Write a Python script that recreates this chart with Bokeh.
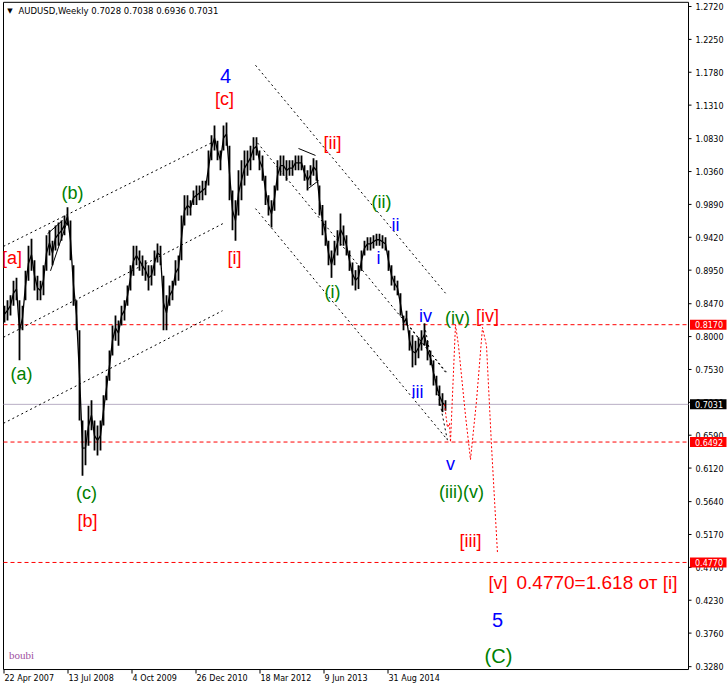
from bokeh.plotting import figure
from bokeh.models import Range1d, Label
from bokeh.core.properties import value
from bokeh.embed import file_html
from bokeh.resources import INLINE

# ---------------- data ----------------
# weekly AUDUSD, one high/low sample every 3 weeks, starting 22 Apr 2007
highs = [0.844, 0.852, 0.859, 0.880, 0.884, 0.852, 0.844, 0.894, 0.930, 0.940,
         0.909, 0.887, 0.880, 0.902, 0.945, 0.952, 0.937, 0.959, 0.963, 0.966,
         0.973, 0.985, 0.966, 0.902, 0.852, 0.809, 0.680, 0.666, 0.701, 0.709,
         0.680, 0.673, 0.680, 0.716, 0.744, 0.780, 0.816, 0.830, 0.823, 0.844,
         0.852, 0.873, 0.902, 0.930, 0.930, 0.923, 0.916, 0.909, 0.902, 0.902,
         0.923, 0.933, 0.930, 0.887, 0.859, 0.873, 0.880, 0.909, 0.916, 0.973,
         1.002, 1.002, 0.995, 1.009, 1.016, 1.016, 1.023, 1.023, 1.066, 1.088,
         1.102, 1.080, 1.066, 1.102, 1.106, 1.073, 1.009, 0.995, 1.038, 1.052,
         1.066, 1.066, 1.073, 1.085, 1.085, 1.066, 1.059, 1.030, 1.002, 0.995,
         1.016, 1.052, 1.059, 1.059, 1.052, 1.052, 1.052, 1.059, 1.059, 1.059,
         1.045, 1.038, 1.045, 1.055, 1.052, 1.016, 0.988, 0.966, 0.937, 0.923,
         0.937, 0.952, 0.976, 0.959, 0.945, 0.923, 0.906, 0.895, 0.902, 0.923,
         0.937, 0.942, 0.942, 0.945, 0.947, 0.947, 0.945, 0.942, 0.923, 0.902,
         0.887, 0.880, 0.862, 0.830, 0.837, 0.809, 0.802, 0.794, 0.799, 0.809,
         0.819, 0.794, 0.780, 0.766, 0.744, 0.730, 0.719, 0.709]
lows = [0.820, 0.823, 0.830, 0.844, 0.852, 0.766, 0.809, 0.852, 0.880, 0.894,
        0.866, 0.852, 0.852, 0.859, 0.894, 0.916, 0.902, 0.923, 0.930, 0.937,
        0.945, 0.959, 0.909, 0.844, 0.809, 0.680, 0.601, 0.616, 0.644, 0.666,
        0.637, 0.630, 0.637, 0.673, 0.709, 0.737, 0.773, 0.794, 0.787, 0.816,
        0.823, 0.844, 0.866, 0.887, 0.902, 0.894, 0.887, 0.880, 0.866, 0.873,
        0.887, 0.906, 0.902, 0.809, 0.809, 0.844, 0.852, 0.873, 0.880, 0.909,
        0.959, 0.973, 0.973, 0.988, 0.988, 0.995, 0.995, 1.002, 1.016, 1.052,
        1.066, 1.052, 1.038, 1.066, 1.073, 0.995, 0.952, 0.937, 0.973, 0.995,
        1.016, 1.030, 1.038, 1.052, 1.059, 1.038, 1.023, 0.988, 0.973, 0.956,
        0.980, 1.009, 1.030, 1.030, 1.023, 1.030, 1.030, 1.038, 1.038, 1.038,
        1.023, 1.009, 1.016, 1.030, 1.023, 0.973, 0.945, 0.930, 0.902, 0.884,
        0.902, 0.916, 0.930, 0.930, 0.916, 0.894, 0.873, 0.866, 0.868, 0.894,
        0.916, 0.923, 0.923, 0.926, 0.930, 0.930, 0.926, 0.923, 0.894, 0.873,
        0.866, 0.859, 0.830, 0.809, 0.816, 0.780, 0.756, 0.759, 0.769, 0.780,
        0.787, 0.766, 0.759, 0.730, 0.716, 0.701, 0.692, 0.694]
sample_step = 3  # weeks between samples
weeks = [0.5 + sample_step * i for i in range(len(highs))]

last_close = 0.7031
level_prices = [0.8170, 0.6492, 0.4770]

price_ticks = [1.2720, 1.2250, 1.1780, 1.1310, 1.0830, 1.0360, 0.9890, 0.9420,
               0.8950, 0.8470, 0.8000, 0.7530, 0.7060, 0.6590, 0.6120, 0.5640,
               0.5170, 0.4700, 0.4230, 0.3760, 0.3280]
date_ticks = [0, 64, 128, 192, 256, 320, 384]
date_labels = ["22 Apr 2007", "13 Jul 2008", "4 Oct 2009", "26 Dec 2010",
               "18 Mar 2012", "9 Jun 2013", "31 Aug 2014"]

# projected path (red dotted), weeks / prices
proj_weeks = [440.5, 443.5, 445.5, 446.5, 451.5, 454.5, 461.5, 466.5, 472.5, 478.5, 482.5, 487.5, 493.5]
proj_prices = [0.7031, 0.670, 0.676, 0.6492, 0.817, 0.787, 0.687, 0.624, 0.708, 0.813, 0.787, 0.644, 0.490]

# channel lines (black dotted): (w0, p0, w1, p1)
channels = [
    (-0.5, 0.929, 211.5, 1.080),
    (-0.5, 0.799, 219.5, 0.962),
    (-0.5, 0.676, 218.5, 0.837),
    (251.5, 1.188, 441.5, 0.862),
    (253.5, 1.077, 442.5, 0.749),
    (251.5, 0.983, 442.5, 0.654),
    (406.5, 0.813, 441.5, 0.749),
    (421.5, 0.809, 443.5, 0.651),
]
trend_segments = [
    (46.5, 0.894, 63.5, 0.966),
    (43.5, 0.947, 58.5, 0.966),
    (294.5, 1.069, 311.5, 1.059),
    (304.5, 1.012, 314.5, 1.023),
]

RED = "#ff0000"
BLUE = "#0000ff"
GREEN = "#008000"

wave_labels = [
    ("4", 221.5, 1.173, BLUE, "20px"),
    ("[c]", 220.5, 1.140, RED, "18px"),
    ("[ii]", 328.5, 1.0775, RED, "18px"),
    ("[i]", 230.5, 0.913, RED, "18px"),
    ("[a]", 8.0, 0.912, RED, "18px"),
    ("(b)", 68.5, 1.006, GREEN, "18px"),
    ("(a)", 17.5, 0.746, GREEN, "18px"),
    ("(c)", 82.5, 0.577, GREEN, "18px"),
    ("[b]", 83.5, 0.536, RED, "18px"),
    ("(ii)", 377.5, 0.993, GREEN, "18px"),
    ("ii", 391.5, 0.960, BLUE, "18px"),
    ("i", 374.5, 0.913, BLUE, "18px"),
    ("(i)", 328.5, 0.864, GREEN, "18px"),
    ("iv", 421.5, 0.829, BLUE, "18px"),
    ("(iv)", 453.5, 0.827, GREEN, "18px"),
    ("[iv]", 483.5, 0.829, RED, "18px"),
    ("iii", 413.5, 0.721, BLUE, "18px"),
    ("v", 446.5, 0.618, BLUE, "18px"),
    ("(iii)(v)", 457.5, 0.578, GREEN, "18px"),
    ("[iii]", 466.5, 0.508, RED, "18px"),
    ("5", 493.5, 0.395, BLUE, "20px"),
    ("(C)", 494.5, 0.343, GREEN, "20px"),
]
target_wave = "[v]"
target_text = "0.4770=1.618 от [i]"

# ---------------- figure ----------------
X_LEFT, AXIS_X = -0.5, 684.5       # plot frame left edge / price-scale line (weeks)
Y_BOTTOM, Y_TOP = 0.3239, 1.2780   # plot frame bottom / top (price)
PX_W = 1.0                         # weeks per pixel
PX_P = 0.00143                     # price per pixel

p = figure(width=728, height=687, x_range=Range1d(-3.5, 724.5), y_range=Range1d(0.2982, 1.2806),
           output_backend="svg", toolbar_location=None, x_axis_location=None, y_axis_location=None,
           min_border_left=0, min_border_top=0, min_border_right=0, min_border_bottom=0)
p.grid.visible = False
p.outline_line_color = None
p.background_fill_color = "white"
p.border_fill_color = "white"

# frame border and price scale line
p.line([X_LEFT, X_LEFT], [Y_BOTTOM, Y_TOP], line_color="black", line_width=1)
p.line([X_LEFT, AXIS_X], [Y_TOP, Y_TOP], line_color="black", line_width=1)
p.line([X_LEFT, AXIS_X], [Y_BOTTOM, Y_BOTTOM], line_color="black", line_width=1)
p.line([AXIS_X, AXIS_X], [Y_BOTTOM, Y_TOP], line_color="black", line_width=1)

# price scale ticks and labels
n = len(price_ticks)
p.segment(x0=[AXIS_X] * n, x1=[AXIS_X + 3 * PX_W] * n, y0=price_ticks, y1=price_ticks,
          line_color="black", line_width=1)
p.text(x=[AXIS_X + 7 * PX_W] * n, y=price_ticks, text=[f"{t:.4f}" for t in price_ticks],
       text_font=value("DejaVu Sans"), text_font_size=value("8px"), text_color="black",
       text_align="left", text_baseline="middle")

# time scale ticks and labels
m = len(date_ticks)
p.segment(x0=date_ticks, x1=date_ticks, y0=[Y_BOTTOM] * m, y1=[Y_BOTTOM - 4 * PX_P] * m,
          line_color="black", line_width=1)
p.text(x=[t + 0.5 * PX_W for t in date_ticks], y=[Y_BOTTOM - 9 * PX_P] * m, text=date_labels,
       text_font=value("DejaVu Sans"), text_font_size=value("8px"), text_color="black",
       text_align="left", text_baseline="middle")

# horizontal levels
for lv in level_prices:
    p.line([X_LEFT, AXIS_X], [lv, lv], line_color=RED, line_width=1, line_dash="4 3")
p.line([X_LEFT, AXIS_X], [last_close, last_close], line_color="#b9aec4", line_width=1)

# channels
for w0, p0, w1, p1 in channels:
    p.line([w0, w1], [p0, p1], line_color="black", line_width=1, line_dash="2 3")
for w0, p0, w1, p1 in trend_segments:
    p.line([w0, w1], [p0, p1], line_color="black", line_width=1)

# price bars
p.segment(x0=weeks, y0=lows, x1=weeks, y1=highs, line_color="black", line_width=1.8)
mids = [(h + l) / 2 for h, l in zip(highs, lows)]
p.line(weeks, mids, line_color="black", line_width=1.3)

# projection
p.line(proj_weeks, proj_prices, line_color=RED, line_width=1, line_dash="2 2")

# price boxes on the scale
box_prices = level_prices + [last_close]
box_colors = [RED] * len(level_prices) + ["black"]
half_h = 5 * PX_P
p.quad(left=[AXIS_X + 1.5 * PX_W] * 4, right=[AXIS_X + 38 * PX_W] * 4,
       bottom=[b - half_h for b in box_prices], top=[b + half_h for b in box_prices],
       fill_color=box_colors, line_color=None)
p.text(x=[AXIS_X + 6.5 * PX_W] * 4, y=box_prices, text=[f"{b:.4f}" for b in box_prices],
       text_font=value("DejaVu Sans"), text_font_size=value("8px"), text_color="white",
       text_align="left", text_baseline="middle")

# wave labels
for txt, w, pr, col, sz in wave_labels:
    p.add_layout(Label(x=w, y=pr, text=txt, text_color=col, text_font="Liberation Sans",
                       text_font_size=sz, text_align="center", text_baseline="middle"))
p.add_layout(Label(x=484.5, y=0.448, text=target_wave, text_color=RED, text_font="Liberation Sans",
                   text_font_size="18px", text_align="left", text_baseline="middle"))
p.add_layout(Label(x=512.5, y=0.448, text=target_text, text_color=RED, text_font="Liberation Sans",
                   text_font_size="19px", text_align="left", text_baseline="middle"))

# title & watermark
p.add_layout(Label(x=6.0, y=1.2655, text="▼", text_color="black", text_font="DejaVu Sans",
                   text_font_size="7px", text_align="center", text_baseline="middle"))
p.add_layout(Label(x=14.5, y=1.2655, text="AUDUSD,Weekly  0.7028 0.7038 0.6936 0.7031", text_color="black",
                   text_font="DejaVu Sans", text_font_size="8.5px", text_align="left", text_baseline="middle"))
p.add_layout(Label(x=5.0, y=0.344, text="boubi", text_color="#a0509f", text_font="Liberation Serif",
                   text_font_size="11px", text_align="left", text_baseline="middle"))

open("out.html", "w").write(file_html(p, INLINE))
